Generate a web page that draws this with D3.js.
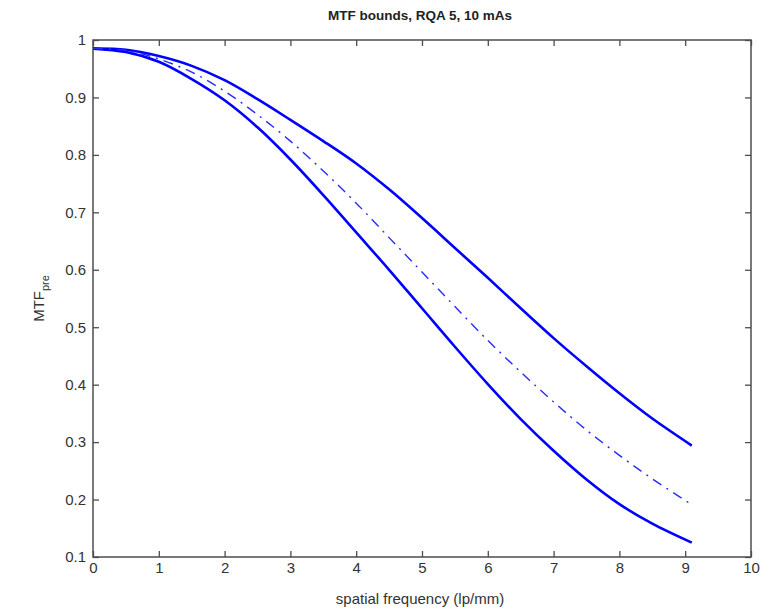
<!DOCTYPE html>
<html><head><meta charset="utf-8">
<script src="https://cdn.jsdelivr.net/npm/d3@7"></script>
<style>body{margin:0;background:#fff}</style>
</head><body>
<script>
const freq   = [0,0.5,1,1.5,2,2.5,3,3.5,4,4.5,5,5.5,6,6.5,7,7.5,8,8.5,9.1];
const upper  = [0.985,0.983,0.972,0.955,0.93,0.897,0.861,0.824,0.785,0.74,0.69,0.638,0.586,0.533,0.481,0.432,0.385,0.341,0.294];
const middle = [0.985,0.982,0.967,0.944,0.911,0.87,0.824,0.772,0.716,0.656,0.596,0.536,0.477,0.422,0.37,0.321,0.277,0.236,0.191];
const lower  = [0.985,0.979,0.962,0.932,0.895,0.848,0.792,0.73,0.665,0.6,0.533,0.466,0.401,0.34,0.285,0.235,0.192,0.158,0.125];
const xTicks = [0,1,2,3,4,5,6,7,8,9,10];
const yTicks = [0.1,0.2,0.3,0.4,0.5,0.6,0.7,0.8,0.9,1];
const title = "MTF bounds, RQA 5, 10 mAs";
const xLabel = "spatial frequency (lp/mm)";

const W=769,H=616, L=93, R=751, T=40, B=557;
const svg=d3.select("body").append("svg").attr("width",W).attr("height",H)
  .style("font-family","'Liberation Sans',Arial,sans-serif");
const x=d3.scaleLinear().domain([0,10]).range([L,R]);
const y=d3.scaleLinear().domain([0.1,1]).range([B,T]);
const axCol="#4d4d4d", txtCol="#333";

function styleAxis(g){
  g.select(".domain").remove();
  g.selectAll(".tick line").attr("stroke",axCol).attr("stroke-width",1.3);
  g.selectAll(".tick text").attr("fill",txtCol).style("font-size","15px");
}
svg.append("g").attr("transform",`translate(0,${B})`)
  .call(d3.axisBottom(x).tickValues(xTicks).tickFormat(d3.format("d")).tickSizeInner(-6).tickSizeOuter(0).tickPadding(5))
  .call(styleAxis);
svg.append("g").attr("transform",`translate(0,${T})`)
  .call(d3.axisTop(x).tickValues(xTicks).tickFormat("").tickSizeInner(-6).tickSizeOuter(0))
  .call(styleAxis);
svg.append("g").attr("transform",`translate(${L},0)`)
  .call(d3.axisLeft(y).tickValues(yTicks).tickFormat(d=>d===1?"1":d3.format(".1f")(d)).tickSizeInner(-6).tickSizeOuter(0).tickPadding(7))
  .call(styleAxis);
svg.append("g").attr("transform",`translate(${R},0)`)
  .call(d3.axisRight(y).tickValues(yTicks).tickFormat("").tickSizeInner(-6).tickSizeOuter(0))
  .call(styleAxis);
svg.append("rect").attr("x",L).attr("y",T).attr("width",R-L).attr("height",B-T)
  .attr("fill","none").attr("stroke",axCol).attr("stroke-width",1.5);

const line=d3.line().x((d,i)=>x(freq[i])).y(d=>y(d)).curve(d3.curveCatmullRom);
svg.append("path").datum(upper).attr("d",line).attr("fill","none").attr("stroke","#0000ff").attr("stroke-width",2.6);
svg.append("path").datum(lower).attr("d",line).attr("fill","none").attr("stroke","#0000ff").attr("stroke-width",2.6);
svg.append("path").datum(middle).attr("d",line).attr("fill","none").attr("stroke","#2a2aff").attr("stroke-width",1.4)
  .attr("stroke-dasharray","10,6,2,6");

svg.append("text").attr("x",(L+R)/2-2).attr("y",20).attr("text-anchor","middle")
  .attr("fill","#222").style("font-size","13.5px").style("font-weight","bold").text(title);
svg.append("text").attr("x",(L+R)/2-2).attr("y",604).attr("text-anchor","middle")
  .attr("fill",txtCol).style("font-size","15px").text(xLabel);
const yl=svg.append("text").attr("transform",`translate(44,${(T+B)/2}) rotate(-90)`).attr("text-anchor","middle")
  .attr("fill",txtCol).style("font-size","15px");
yl.append("tspan").text("MTF");
yl.append("tspan").attr("dy",5).style("font-size","11px").text("pre");
</script>
</body></html>
